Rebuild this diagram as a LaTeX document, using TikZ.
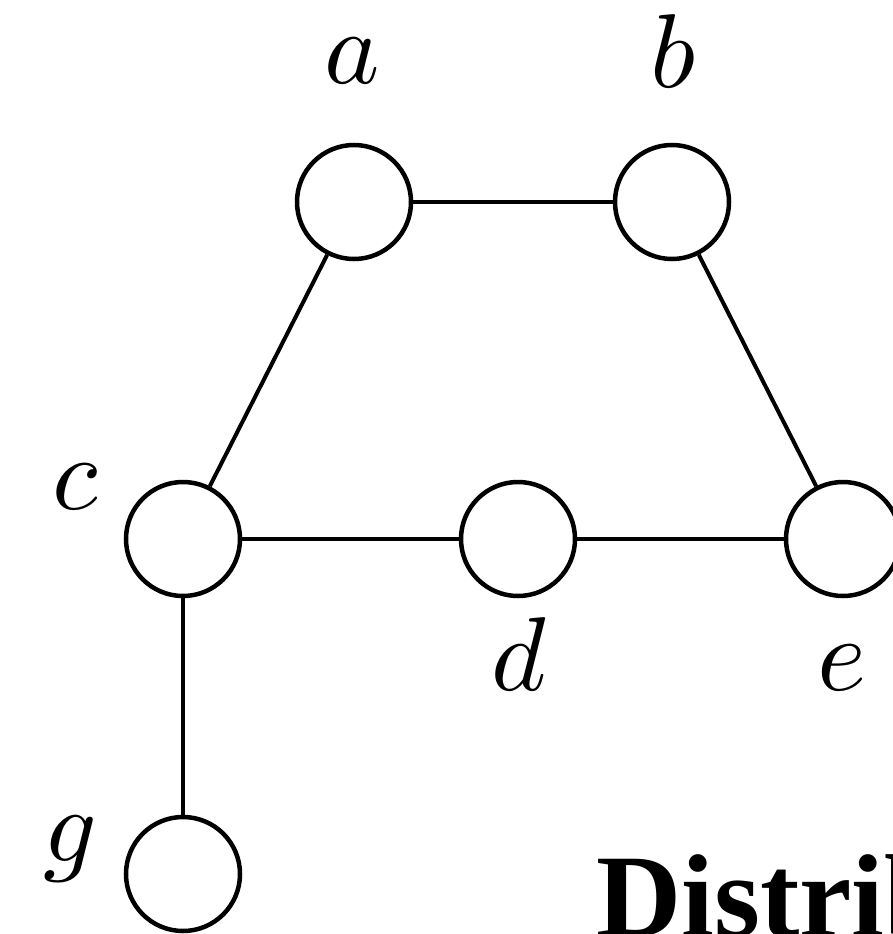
\documentclass[tikz,border=0pt]{standalone}
\usepackage{graphicx}
\usepackage{fontspec}
\newfontfamily\titlefont{Liberation Serif}
\newcommand{\biglbl}[1]{\scalebox{10.5}{$#1$}}
\begin{document}
\begin{tikzpicture}[x=1pt,y=-1pt,
  vert/.style={circle,draw,line width=4.5pt,minimum size=114pt,inner sep=0pt},
  edge/.style={line width=4pt},
  lbl/.style={anchor=base,inner sep=0pt}]
\useasboundingbox (0,0) rectangle (893,934);
\clip (0,0) rectangle (893,934);
\node[vert] (a) at (354,202) {};
\node[vert] (b) at (672,202) {};
\node[vert] (c) at (183,539) {};
\node[vert] (d) at (518,539) {};
\node[vert] (e) at (843,539) {};
\node[vert] (g) at (183,874) {};
\draw[edge] (a) -- (b);
\draw[edge] (a) -- (c);
\draw[edge] (b) -- (e);
\draw[edge] (c) -- (d);
\draw[edge] (d) -- (e);
\draw[edge] (c) -- (g);
\node[lbl] (la) at (352,83) {\biglbl{a}};
\node[lbl] (lb) at (673,88) {\biglbl{b}};
\node[lbl] (lc) at (75,509) {\biglbl{c}};
\node[lbl] (ld) at (519,690) {\biglbl{d}};
\node[lbl] (le) at (842,690) {\biglbl{e}};
\node[lbl] (lg) at (70,861) {\biglbl{g}};
\node[anchor=base west,inner sep=0pt,font=\titlefont\bfseries\fontsize{118}{120}\selectfont] (title) at (596,936) {Distributed};
\end{tikzpicture}
\end{document}
